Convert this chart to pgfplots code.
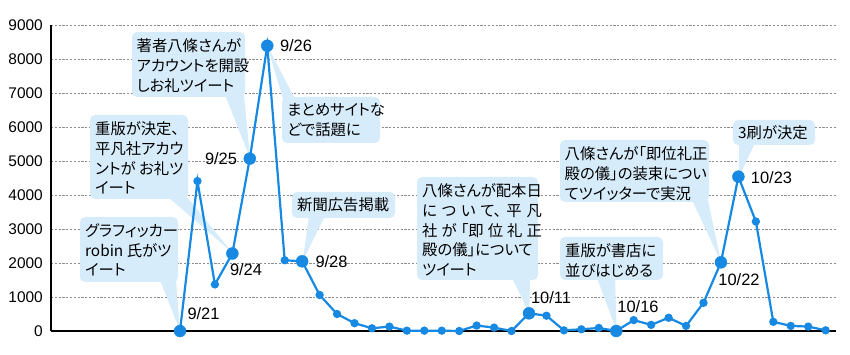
\documentclass[border=0pt]{standalone}
\usepackage{fontspec}
\setmainfont{Liberation Sans}
\newfontfamily\jp[RawFeature=+palt]{Noto Sans CJK JP}
\usepackage{pgfplots}
\usepackage{pgfplotstable}
\pgfplotsset{compat=1.18}
\definecolor{lineblue}{RGB}{23,137,226}
\definecolor{cfill}{RGB}{215,236,250}
\definecolor{gridgray}{RGB}{140,140,140}

\pgfplotstableread{
x y
0 0
1 4410
2 1370
3 2280
4 5070
5 8390
6 2080
7 2050
8 1060
9 500
10 230
11 80
12 130
13 10
14 10
15 10
16 0
17 160
18 100
19 0
20 520
21 450
22 20
23 50
24 90
25 0
26 320
27 180
28 390
29 150
30 830
31 2020
32 4540
33 3220
34 270
35 150
36 130
37 20
}\dailydata

\pgfplotstableread{
x y
0 0
3 2280
4 5070
5 8390
7 2050
20 520
25 0
31 2020
32 4540
}\bigdata

\pgfplotsset{base/.style={at={(51bp,24bp)}, anchor=south west, scale only axis,
  width=785bp, height=306bp, xmin=-7.3926, xmax=37.593, ymin=0, ymax=9000, clip=false}}
\tikzset{ctext/.style={anchor=north west, inner sep=0pt, align=left, font=\jp\fontsize{15.4}{20}\selectfont},
  dlab/.style={inner sep=0pt, font=\fontsize{16.5}{18}\selectfont}}
\newlength\lw

\begin{document}
\settowidth{\lw}{\jp\fontsize{15.4}{20}\selectfont 八條さんが配本日}%
\begin{tikzpicture}
\path[use as bounding box] (0,0) rectangle (850bp,355bp);
% axis frame, grid, ticks
\begin{axis}[base,
  axis x line*=bottom, axis y line*=left,
  axis line style={-, line width=1.8bp, black},
  ymajorgrids, grid style={gridgray, line width=0.8bp, dash pattern=on 2.2bp off 1.6bp},
  xtick=\empty, ytick={0,1000,...,9000},
  major tick length=0pt,
  scaled y ticks=false,
  /pgf/number format/1000 sep={},
  /pgf/number format/assume math mode=true,
  yticklabel style={inner sep=0pt, xshift=-8bp, font=\fontsize{15.5}{17}\selectfont},
]
\end{axis}
% callouts
\begin{scope}[x=1bp, y=-1bp, shift={(0bp,355bp)}]
% 1
\fill[cfill, rounded corners=5bp] (80,217) rectangle (178,282);
\fill[cfill] (160,280) -- (180,331) -- (176,280) -- cycle;
\node[ctext] at (85,223) {グラフィッカー\\robin 氏がツ\\イート};
% 2
\fill[cfill, rounded corners=5bp] (90,115) rectangle (188,199);
\fill[cfill] (168,197) -- (232.7,253) -- (187,197) -- cycle;
\node[ctext] at (95,121) {重版が決定、\\平凡社アカウ\\ントが お礼ツ\\イート};
% 3
\fill[cfill, rounded corners=5bp] (132,32) rectangle (245,97);
\fill[cfill] (225,95) -- (250,158) -- (244,95) -- cycle;
\node[ctext] at (136.5,38) {著者八條さんが\\アカウントを開設\\しお礼ツイート};
% 4
\fill[cfill, rounded corners=5bp] (282,97) rectangle (380,143);
\fill[cfill] (283,99) -- (267,45) -- (295,99) -- cycle;
\node[ctext] at (287,103) {まとめサイトな\\どで話題に};
% 5
\fill[cfill, rounded corners=5bp] (292,192) rectangle (395,218);
\fill[cfill] (309,216) -- (302.7,261) -- (325,216) -- cycle;
\node[ctext] at (297,197) {新聞広告掲載};
% 6
\fill[cfill, rounded corners=5bp] (417,177) rectangle (538,280);
\fill[cfill] (512,278) -- (529.3,313) -- (530,278) -- cycle;
\node[ctext] at (422,183) {八條さんが配本日\\\makebox[\lw][s]{に\hfil つ\hfil い\hfil て、\hfil 平\hfil 凡}\\\makebox[\lw][s]{社\hfil が\hfil 「即\hfil 位\hfil 礼\hfil 正}\\殿の儀」について\\ツイート};
% 7
\fill[cfill, rounded corners=5bp] (560,237) rectangle (663,280);
\fill[cfill] (597,278) -- (616.7,331) -- (615,278) -- cycle;
\node[ctext] at (565,243) {重版が書店に\\並びはじめる};
% 8
\fill[cfill, rounded corners=5bp] (560,140) rectangle (709,202);
\fill[cfill] (692,200) -- (721,262) -- (708,200) -- cycle;
\node[ctext] at (564.5,146) {八條さんが「即位礼正\\殿の儀」の装束につい\\てツイッターで実況};
% 9
\fill[cfill, rounded corners=5bp] (733,120) rectangle (815,145);
\fill[cfill] (739,143) -- (739,177) -- (755,143) -- cycle;
\node[ctext] at (738,125) {3刷が決定};
% date labels
\node[dlab] at (203.5,314) {9/21};
\node[dlab] at (246,270) {9/24};
\node[dlab] at (221,159) {9/25};
\node[dlab] at (296,46) {9/26};
\node[dlab] at (331.5,261.5) {9/28};
\node[dlab] at (551,297.5) {10/11};
\node[dlab] at (638,307) {10/16};
\node[dlab] at (739,279.5) {10/22};
\node[dlab] at (771.5,177.5) {10/23};
\end{scope}
% data
\begin{axis}[base, hide axis]
\addplot[lineblue, line width=2.2bp, mark=*, mark size=3bp, mark options={fill=lineblue, draw=lineblue}] table[x=x,y=y] {\dailydata};
\addplot[only marks, mark=*, mark size=6bp, mark options={fill=lineblue, draw=lineblue}] table[x=x,y=y] {\bigdata};
\end{axis}
\end{tikzpicture}
\end{document}
